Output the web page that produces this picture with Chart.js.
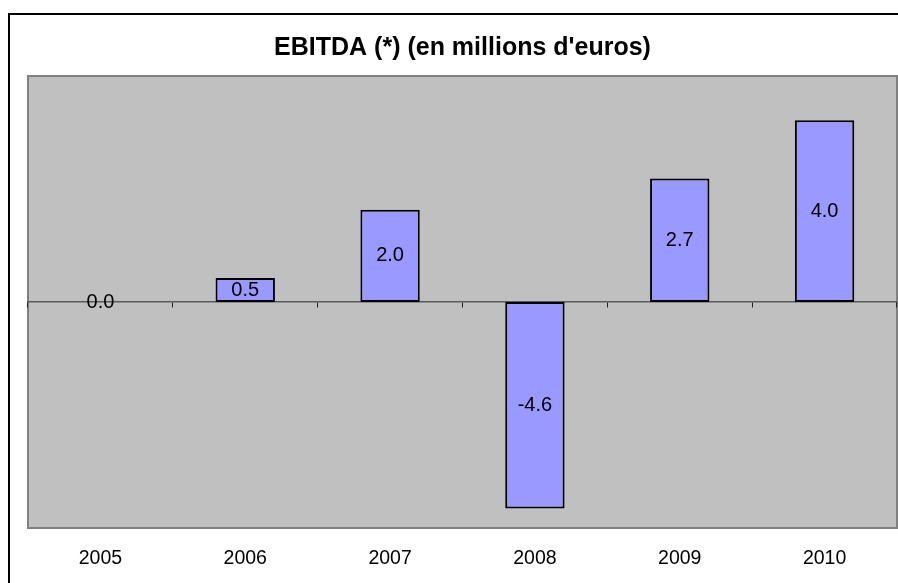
<!DOCTYPE html>
<html>
<head>
<meta charset="utf-8">
<script src="https://cdn.jsdelivr.net/npm/chart.js@4/dist/chart.umd.min.js"></script>
<style>
  html, body { margin: 0; padding: 0; background: #ffffff; }
  #wrap { position: relative; width: 898px; height: 583px; overflow: hidden; background: #ffffff; }
  #frame { position: absolute; left: 8px; top: 13px; width: 1000px; height: 1000px;
           border-left: 2px solid #000; border-top: 2px solid #000; }
  #c { position: absolute; left: 0; top: 0; }
</style>
</head>
<body>
<div id="wrap">
  <div id="frame"></div>
  <canvas id="c" width="898" height="583"></canvas>
</div>
<script>
const titleText = "EBITDA (*) (en millions d'euros)";
const years = ["2005", "2006", "2007", "2008", "2009", "2010"];
const ebitda = [0.0, 0.53, 2.04, -4.57, 2.73, 4.02];
const yMin = -5;
const yMax = 5;

const FONT = "'Liberation Sans', Arial, Helvetica, sans-serif";
Chart.defaults.font.family = FONT;
Chart.defaults.color = '#000000';

const plotBackground = {
  id: 'plotBackground',
  beforeDraw(chart) {
    const { ctx, chartArea: a } = chart;
    ctx.save();
    ctx.fillStyle = '#C0C0C0';
    ctx.fillRect(a.left, a.top, a.right - a.left, a.bottom - a.top);
    ctx.strokeStyle = '#808080';
    ctx.lineWidth = 2;
    ctx.strokeRect(a.left, a.top, a.right - a.left, a.bottom - a.top);
    ctx.restore();
  }
};

const barLabels = {
  id: 'barLabels',
  afterDatasetsDraw(chart) {
    const { ctx } = chart;
    const meta = chart.getDatasetMeta(0);
    ctx.save();
    ctx.font = '20px ' + FONT;
    ctx.fillStyle = '#000000';
    ctx.textAlign = 'center';
    ctx.textBaseline = 'middle';
    meta.data.forEach((el, i) => {
      const v = chart.data.datasets[0].data[i];
      ctx.fillText(v.toFixed(1), el.x, (el.y + el.base) / 2);
    });
    ctx.restore();
  }
};

new Chart(document.getElementById('c'), {
  type: 'bar',
  data: {
    labels: years,
    datasets: [{
      data: ebitda,
      xAxisID: 'x',
      yAxisID: 'y',
      backgroundColor: '#9999FF',
      borderColor: '#000000',
      borderWidth: 2,
      borderSkipped: false,
      categoryPercentage: 1.0,
      barPercentage: 0.41
    }]
  },
  options: {
    responsive: false,
    animation: false,
    layout: { padding: { left: 28, right: 1, top: 18, bottom: 14 } },
    plugins: {
      legend: { display: false },
      tooltip: { enabled: false },
      title: {
        display: true,
        text: titleText,
        color: '#000000',
        font: { size: 25, weight: 'bold', family: FONT },
        padding: { top: 15, bottom: 13 }
      }
    },
    scales: {
      x: {
        type: 'category',
        position: 'bottom',
        offset: true,
        grid: { display: false, drawTicks: false },
        border: { display: false },
        ticks: { color: '#000000', font: { size: 19.5, family: FONT }, padding: 19, maxRotation: 0 },
        afterFit(scale) { scale.height = 41; }
      },
      x2: {
        type: 'category',
        position: { y: 0 },
        offset: true,
        grid: { display: true, offset: true, drawOnChartArea: false, drawTicks: true, tickLength: 5, color: '#202020', lineWidth: 1 },
        border: { display: true, color: '#5a5a5a', width: 1.5 },
        ticks: { display: false },
        afterFit(scale) { scale.height = 0; }
      },
      y: {
        display: false,
        min: yMin,
        max: yMax
      }
    }
  },
  plugins: [plotBackground, barLabels]
});
</script>
</body>
</html>
